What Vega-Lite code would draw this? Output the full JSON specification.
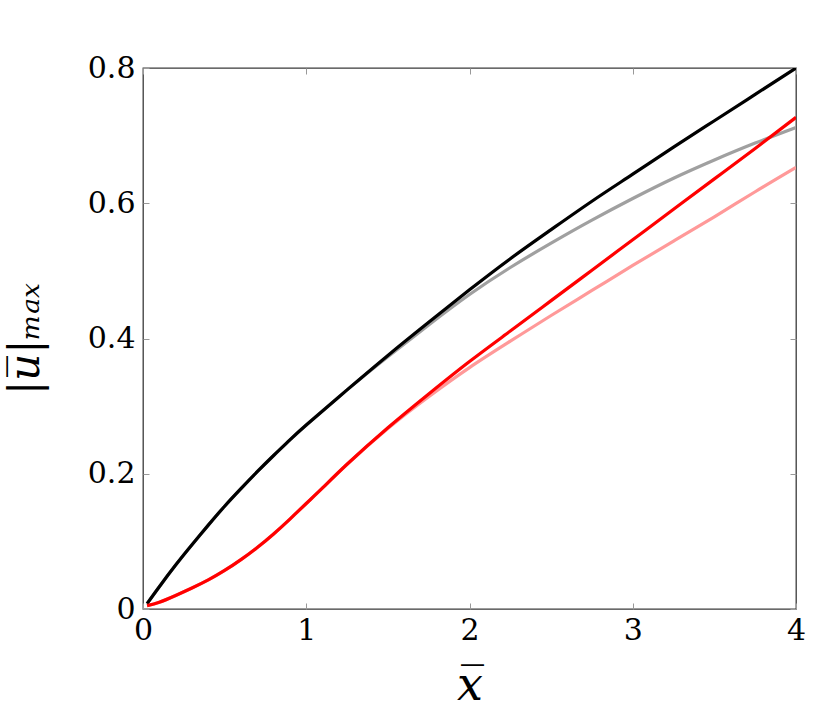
{
  "$schema": "https://vega.github.io/schema/vega-lite/v6.json",
  "width": 653,
  "height": 541,
  "autosize": "none",
  "padding": {"left": 143, "top": 68, "right": 33, "bottom": 106},
  "background": "white",
  "config": {
    "view": {"stroke": "#3a3a3a", "strokeWidth": 1.3},
    "axis": {
      "grid": false,
      "domain": false,
      "tickSize": -6,
      "tickColor": "#999999",
      "tickWidth": 1,
      "labelFlush": false,
      "labelOverlap": false,
      "labelFont": "DejaVu Serif",
      "labelFontSize": 30,
      "labelColor": "black",
      "titleFont": "DejaVu Serif",
      "titleColor": "black",
      "titleFontWeight": "normal"
    }
  },
  "datasets": {
    "black": [
      {"x": 0.025, "y": 0.008}, {"x": 0.1, "y": 0.033}, {"x": 0.2, "y": 0.065}, {"x": 0.3, "y": 0.095},
      {"x": 0.4, "y": 0.124}, {"x": 0.5, "y": 0.152}, {"x": 0.6, "y": 0.178}, {"x": 0.7, "y": 0.203},
      {"x": 0.8, "y": 0.227}, {"x": 0.9, "y": 0.25}, {"x": 1.0, "y": 0.272}, {"x": 1.25, "y": 0.324},
      {"x": 1.5, "y": 0.375}, {"x": 1.75, "y": 0.424}, {"x": 2.0, "y": 0.472}, {"x": 2.25, "y": 0.518},
      {"x": 2.5, "y": 0.561}, {"x": 2.75, "y": 0.603}, {"x": 3.0, "y": 0.643}, {"x": 3.25, "y": 0.683},
      {"x": 3.5, "y": 0.722}, {"x": 3.75, "y": 0.761}, {"x": 4.0, "y": 0.8}
    ],
    "gray": [
      {"x": 0.025, "y": 0.008}, {"x": 0.1, "y": 0.033}, {"x": 0.2, "y": 0.065}, {"x": 0.3, "y": 0.095},
      {"x": 0.4, "y": 0.124}, {"x": 0.5, "y": 0.152}, {"x": 0.6, "y": 0.178}, {"x": 0.7, "y": 0.203},
      {"x": 0.8, "y": 0.227}, {"x": 0.9, "y": 0.25}, {"x": 1.0, "y": 0.272}, {"x": 1.25, "y": 0.324},
      {"x": 1.5, "y": 0.373}, {"x": 1.75, "y": 0.42}, {"x": 2.0, "y": 0.465}, {"x": 2.25, "y": 0.505},
      {"x": 2.5, "y": 0.541}, {"x": 2.75, "y": 0.575}, {"x": 3.0, "y": 0.607}, {"x": 3.25, "y": 0.637},
      {"x": 3.5, "y": 0.664}, {"x": 3.75, "y": 0.689}, {"x": 4.0, "y": 0.712}
    ],
    "red": [
      {"x": 0.025, "y": 0.005}, {"x": 0.1, "y": 0.01}, {"x": 0.2, "y": 0.02}, {"x": 0.3, "y": 0.031},
      {"x": 0.4, "y": 0.043}, {"x": 0.5, "y": 0.057}, {"x": 0.6, "y": 0.073}, {"x": 0.7, "y": 0.091},
      {"x": 0.8, "y": 0.111}, {"x": 0.9, "y": 0.133}, {"x": 1.0, "y": 0.156}, {"x": 1.1, "y": 0.179},
      {"x": 1.25, "y": 0.214}, {"x": 1.5, "y": 0.268}, {"x": 1.75, "y": 0.318}, {"x": 2.0, "y": 0.366},
      {"x": 2.25, "y": 0.411}, {"x": 2.5, "y": 0.456}, {"x": 2.75, "y": 0.501}, {"x": 3.0, "y": 0.546},
      {"x": 3.25, "y": 0.591}, {"x": 3.5, "y": 0.636}, {"x": 3.75, "y": 0.681}, {"x": 4.0, "y": 0.727}
    ],
    "pink": [
      {"x": 0.025, "y": 0.005}, {"x": 0.1, "y": 0.01}, {"x": 0.2, "y": 0.02}, {"x": 0.3, "y": 0.031},
      {"x": 0.4, "y": 0.043}, {"x": 0.5, "y": 0.057}, {"x": 0.6, "y": 0.073}, {"x": 0.7, "y": 0.091},
      {"x": 0.8, "y": 0.111}, {"x": 0.9, "y": 0.133}, {"x": 1.0, "y": 0.156}, {"x": 1.1, "y": 0.179},
      {"x": 1.25, "y": 0.214}, {"x": 1.5, "y": 0.267}, {"x": 1.75, "y": 0.314}, {"x": 2.0, "y": 0.357},
      {"x": 2.25, "y": 0.396}, {"x": 2.5, "y": 0.434}, {"x": 2.75, "y": 0.471}, {"x": 3.0, "y": 0.508},
      {"x": 3.25, "y": 0.544}, {"x": 3.5, "y": 0.58}, {"x": 3.75, "y": 0.617}, {"x": 4.0, "y": 0.653}
    ]
  },
  "resolve": {"scale": {"x": "independent", "y": "independent"}, "axis": {"x": "independent", "y": "independent"}},
  "layer": [
    {
      "data": {"name": "gray"},
      "mark": {"type": "line", "color": "#a0a0a0", "strokeWidth": 3.2, "interpolate": "natural", "clip": true},
      "encoding": {
        "x": {"field": "x", "type": "quantitative", "scale": {"domain": [0, 4], "nice": false},
              "axis": {"orient": "top", "values": [0, 1, 2, 3, 4], "labels": false, "title": null}},
        "y": {"field": "y", "type": "quantitative", "scale": {"domain": [0, 0.8], "nice": false},
              "axis": {"orient": "right", "values": [0, 0.2, 0.4, 0.6, 0.8], "labels": false, "title": null}}
      }
    },
    {
      "data": {"name": "pink"},
      "mark": {"type": "line", "color": "#ff9999", "strokeWidth": 3.2, "interpolate": "natural", "clip": true},
      "encoding": {
        "x": {"field": "x", "type": "quantitative", "scale": {"domain": [0, 4], "nice": false}, "axis": null},
        "y": {"field": "y", "type": "quantitative", "scale": {"domain": [0, 0.8], "nice": false}, "axis": null}
      }
    },
    {
      "data": {"name": "black"},
      "mark": {"type": "line", "color": "#000000", "strokeWidth": 3.2, "interpolate": "natural", "clip": true},
      "encoding": {
        "x": {"field": "x", "type": "quantitative", "scale": {"domain": [0, 4], "nice": false}, "axis": null},
        "y": {"field": "y", "type": "quantitative", "scale": {"domain": [0, 0.8], "nice": false}, "axis": null}
      }
    },
    {
      "data": {"name": "red"},
      "mark": {"type": "line", "color": "#ff0000", "strokeWidth": 3.2, "interpolate": "natural", "clip": true},
      "encoding": {
        "x": {"field": "x", "type": "quantitative", "scale": {"domain": [0, 4], "nice": false},
              "axis": {"orient": "bottom", "values": [0, 1, 2, 3, 4], "labelPadding": 12, "title": "x̅",
                       "titleFontSize": 46, "titleFontStyle": "italic", "titlePadding": 18}},
        "y": {"field": "y", "type": "quantitative", "scale": {"domain": [0, 0.8], "nice": false},
              "axis": {"orient": "left", "values": [0, 0.2, 0.4, 0.6, 0.8], "labelPadding": 14,
                       "labelExpr": "datum.value == 0 ? '0' : format(datum.value, '.1f')",
                       "title": "|u̅|ₘₐₓ", "titleFontSize": 42, "titleFontStyle": "italic", "titlePadding": 40}}
      }
    }
  ]
}
